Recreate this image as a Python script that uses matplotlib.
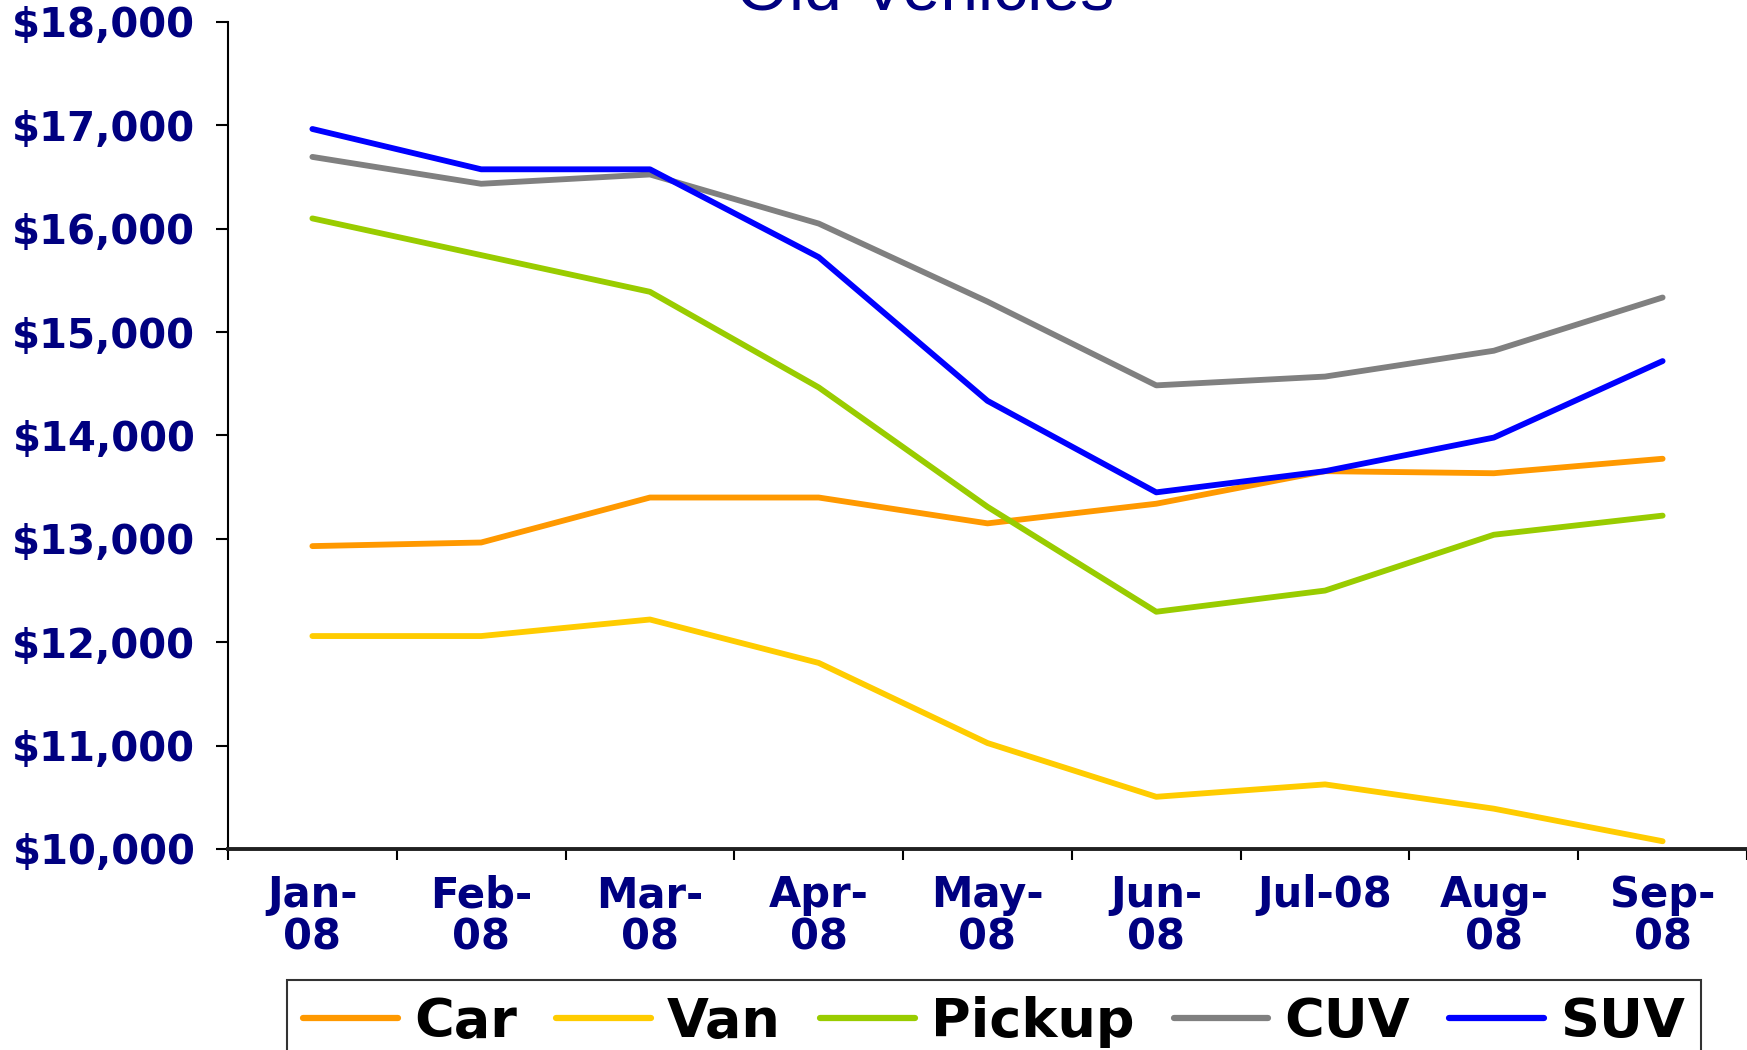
import numpy as np
import matplotlib.pyplot as plt
from matplotlib.ticker import FixedLocator, FuncFormatter

months = ['Jan-\n08', 'Feb-\n08', 'Mar-\n08', 'Apr-\n08', 'May-\n08',
          'Jun-\n08', 'Jul-08', 'Aug-\n08', 'Sep-\n08']

car = [12930, 12965, 13400, 13400, 13150, 13340, 13655, 13635, 13775]
van = [12060, 12060, 12220, 11800, 11025, 10505, 10625, 10390, 10075]
pickup = [16100, 15745, 15390, 14465, 13310, 12295, 12500, 13040, 13225]
cuv = [16695, 16435, 16525, 16050, 15295, 14485, 14570, 14820, 15335]
suv = [16965, 16575, 16575, 15725, 14335, 13450, 13655, 13980, 14720]

series = [('Car', car, '#FF9900'),
          ('Van', van, '#FFCC00'),
          ('Pickup', pickup, '#99CC00'),
          ('CUV', cuv, '#808080'),
          ('SUV', suv, '#0000FF')]

navy = '#000080'

fig = plt.figure(figsize=(17.47, 10.5), dpi=100)
ax = fig.add_axes([228 / 1747, 1 - 849 / 1050, 1 - 228 / 1747, (849 - 22) / 1050])

x = np.arange(len(months))
for name, vals, col in series:
    ax.plot(x, vals, color=col, lw=4.2, label=name, solid_capstyle='round')

ax.set_xlim(-0.5, len(months) - 0.5)
ax.set_ylim(10000, 18000)
ax.set_yticks(np.arange(10000, 18001, 1000))
ax.yaxis.set_major_formatter(FuncFormatter(lambda v, p: f'${v:,.0f}'))

# category boundaries as major ticks, labels on minor ticks at centres
ax.xaxis.set_major_locator(FixedLocator(np.arange(-0.5, len(months), 1.0)))
ax.xaxis.set_major_formatter(FuncFormatter(lambda v, p: ''))
ax.xaxis.set_minor_locator(FixedLocator(x))
ax.set_xticklabels(months, minor=True)

ax.tick_params(axis='x', which='major', direction='out', length=8, width=1.5, color='black')
ax.tick_params(axis='x', which='minor', length=0, pad=18)
ax.tick_params(axis='y', direction='out', length=8.5, width=1.5, pad=15)

for lab in ax.get_yticklabels():
    lab.set_fontsize(29)
for lab in ax.get_xticklabels(minor=True):
    lab.set_fontsize(30)
    lab.set_linespacing(1.0)
    lab.set_verticalalignment('top')
for lab in ax.get_xticklabels(minor=True) + ax.get_yticklabels():
    lab.set_fontweight('bold')
    lab.set_color(navy)
    lab.set_family('DejaVu Sans')

for s in ['top', 'right']:
    ax.spines[s].set_visible(False)
ax.spines['left'].set_linewidth(1.5)
ax.spines['bottom'].set_linewidth(2.8)
ax.spines['bottom'].set_color('#202020')

fig.text(925 / 1747, 1 - 9 / 1050, 'Old Vehicles', ha='center', va='baseline',
         fontsize=49, color=navy, family='Liberation Sans')

leg = fig.legend(loc='upper left', bbox_to_anchor=(287 / 1747, 1 - 980 / 1050),
                 ncol=5, frameon=True, fancybox=False, edgecolor='black',
                 handlelength=1.75, handletextpad=0.3, columnspacing=0.72,
                 borderpad=0.3, borderaxespad=0,
                 prop={'family': 'DejaVu Sans', 'weight': 'bold', 'size': 39})
leg.get_frame().set_linewidth(1.5)
for h in leg.get_lines():
    h.set_linewidth(4.5)

fig.savefig('out.png', dpi=100)
